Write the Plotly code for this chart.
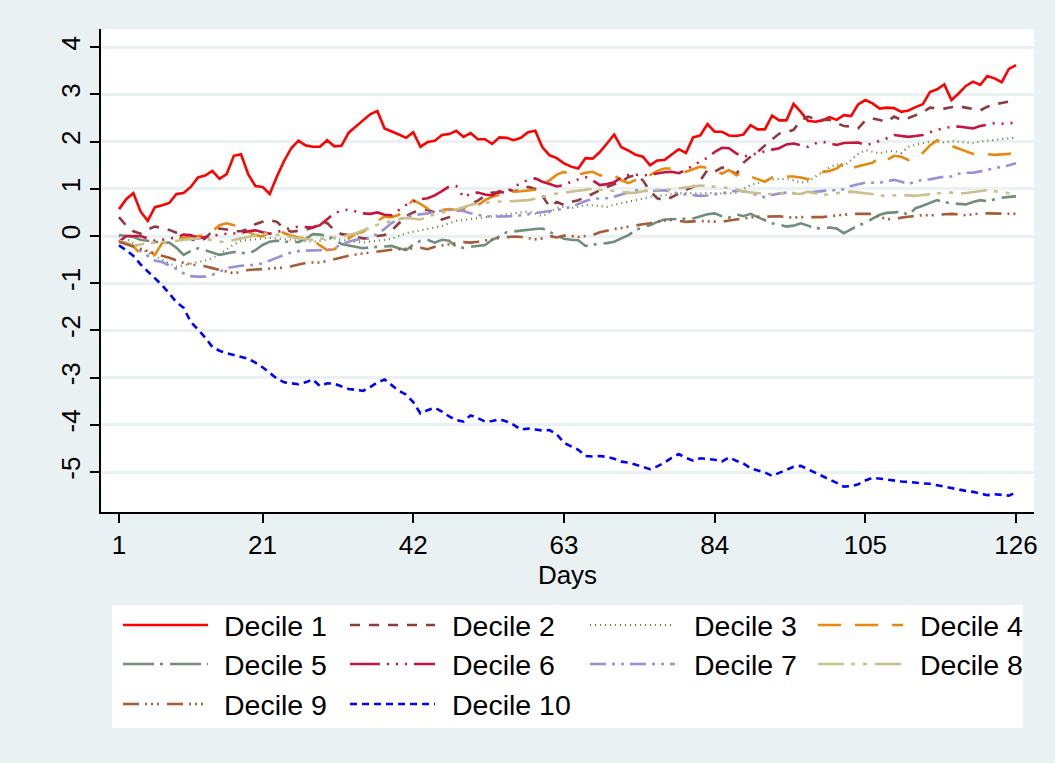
import plotly.graph_objects as go

# Cumulative returns by decile over the 126-day window
days = list(range(1, 127))
x_ticks = [1, 21, 42, 63, 84, 105, 126]
y_ticks = [-5, -4, -3, -2, -1, 0, 1, 2, 3, 4]

decile_1 = [0.57, 0.78, 0.91, 0.52, 0.32, 0.61, 0.65, 0.70, 0.89, 0.91,
            1.04, 1.24, 1.28, 1.38, 1.21, 1.31, 1.70, 1.73, 1.31, 1.06,
            1.04, 0.89, 1.26, 1.59, 1.86, 2.02, 1.92, 1.89, 1.89, 2.03,
            1.90, 1.91, 2.19, 2.33, 2.45, 2.58, 2.65, 2.28, 2.22, 2.15,
            2.08, 2.20, 1.89, 1.99, 2.02, 2.14, 2.16, 2.23, 2.10, 2.18,
            2.05, 2.05, 1.95, 2.09, 2.08, 2.03, 2.08, 2.20, 2.23, 1.88,
            1.71, 1.65, 1.54, 1.47, 1.43, 1.65, 1.64, 1.78, 1.96, 2.15,
            1.88, 1.81, 1.72, 1.68, 1.50, 1.60, 1.61, 1.72, 1.84, 1.76,
            2.09, 2.13, 2.37, 2.21, 2.21, 2.13, 2.12, 2.15, 2.35, 2.26,
            2.26, 2.55, 2.45, 2.45, 2.80, 2.63, 2.44, 2.42, 2.45, 2.52,
            2.46, 2.56, 2.54, 2.79, 2.88, 2.81, 2.70, 2.72, 2.71, 2.63,
            2.66, 2.73, 2.79, 3.05, 3.11, 3.21, 2.88, 3.02, 3.18, 3.27,
            3.20, 3.39, 3.34, 3.26, 3.54, 3.62]

decile_2 = [0.40, 0.22, 0.10, 0.05, 0.14, 0.20, 0.17, 0.13, 0.07, 0.02,
            -0.06, -0.12, -0.05, 0.10, 0.16, 0.14, 0.10, 0.10, 0.15, 0.25,
            0.30, 0.34, 0.30, 0.16, 0.09, 0.11, 0.13, 0.18, 0.25, 0.28,
            0.12, 0.04, 0.02, -0.02, -0.05, -0.05, 0.00, 0.02, 0.12, 0.27,
            0.42, 0.50, 0.55, 0.55, 0.50, 0.35, 0.40, 0.52, 0.60, 0.68,
            0.75, 0.85, 0.92, 0.92, 1.00, 0.95, 0.97, 1.04, 1.00, 0.85,
            0.62, 0.72, 0.66, 0.72, 0.76, 0.82, 0.90, 0.97, 1.04, 1.10,
            1.15, 1.25, 1.29, 1.18, 0.95, 0.80, 0.76, 0.82, 0.90, 0.98,
            1.04, 1.18, 1.40, 1.36, 1.45, 1.43, 1.30, 1.55, 1.68, 1.78,
            1.92, 2.05, 2.17, 2.20, 2.25, 2.45, 2.53, 2.48, 2.46, 2.46,
            2.39, 2.33, 2.32, 2.28, 2.45, 2.49, 2.46, 2.42, 2.53, 2.46,
            2.50, 2.56, 2.62, 2.72, 2.71, 2.70, 2.73, 2.75, 2.72, 2.69,
            2.66, 2.74, 2.79, 2.82, 2.85, 2.90]

decile_3 = [0.00, -0.05, -0.15, -0.28, -0.35, -0.42, -0.50, -0.58, -0.65, -0.62,
            -0.58, -0.55, -0.52, -0.47, -0.38, -0.28, -0.18, -0.10, -0.08, -0.06,
            -0.05, -0.04, -0.05, -0.06, -0.08, -0.10, -0.11, -0.12, -0.10, -0.07,
            -0.05, -0.08, -0.10, -0.12, -0.14, -0.12, -0.10, -0.09, -0.06, 0.00,
            0.06, 0.09, 0.12, 0.16, 0.19, 0.21, 0.27, 0.32, 0.34, 0.36,
            0.37, 0.40, 0.42, 0.44, 0.45, 0.47, 0.50, 0.52, 0.48, 0.42,
            0.50, 0.60, 0.62, 0.59, 0.62, 0.66, 0.65, 0.63, 0.62, 0.66,
            0.70, 0.73, 0.76, 0.80, 0.83, 0.85, 0.87, 0.88, 0.90, 0.91,
            0.90, 0.90, 0.91, 0.90, 0.90, 0.90, 0.92, 1.00, 1.08, 1.12,
            1.17, 1.20, 1.20, 1.21, 1.18, 1.13, 1.16, 1.25, 1.35, 1.45,
            1.52, 1.48, 1.60, 1.74, 1.82, 1.78, 1.75, 1.79, 1.80, 1.76,
            1.89, 1.93, 1.97, 2.00, 2.00, 1.98, 2.01, 2.00, 1.98, 1.97,
            2.00, 2.02, 2.03, 2.05, 2.07, 2.08]

decile_4 = [-0.12, -0.15, -0.22, -0.38, -0.30, -0.40, -0.15, -0.10, -0.06, -0.04,
            -0.02, 0.00, 0.02, 0.10, 0.23, 0.27, 0.23, 0.15, 0.08, 0.02,
            -0.01, 0.08, 0.14, 0.06, 0.01, -0.03, -0.05, -0.08, -0.20, -0.30,
            -0.28, -0.18, -0.05, 0.05, 0.09, 0.20, 0.32, 0.41, 0.40, 0.45,
            0.62, 0.76, 0.68, 0.58, 0.52, 0.55, 0.57, 0.55, 0.56, 0.59,
            0.65, 0.76, 0.83, 0.87, 0.90, 0.94, 0.95, 0.97, 0.98, 1.12,
            1.18, 1.30, 1.36, 1.29, 1.30, 1.34, 1.36, 1.29, 1.27, 1.29,
            1.18, 1.12, 1.19, 1.24, 1.29, 1.38, 1.43, 1.43, 1.41, 1.36,
            1.42, 1.47, 1.44, 1.40, 1.32, 1.40, 1.29, 1.34, 1.26, 1.20,
            1.15, 1.24, 1.26, 1.26, 1.26, 1.24, 1.20, 1.30, 1.35, 1.38,
            1.43, 1.55, 1.43, 1.48, 1.52, 1.55, 1.67, 1.61, 1.70, 1.68,
            1.61, 1.66, 1.76, 1.92, 2.03, 1.96, 1.91, 1.85, 1.79, 1.74,
            1.75, 1.73, 1.72, 1.73, 1.74, 1.77]

decile_5 = [0.02, 0.00, -0.02, -0.08, -0.10, -0.12, -0.14, -0.14, -0.25, -0.40,
            -0.32, -0.26, -0.30, -0.35, -0.40, -0.37, -0.34, -0.35, -0.38, -0.30,
            -0.19, -0.12, -0.10, -0.12, -0.12, -0.13, -0.06, 0.04, 0.03, 0.00,
            -0.06, -0.17, -0.20, -0.23, -0.26, -0.24, -0.23, -0.22, -0.21, -0.26,
            -0.30, -0.18, -0.10, -0.08, -0.14, -0.08, -0.10, -0.23, -0.25, -0.23,
            -0.21, -0.19, -0.08, -0.01, 0.08, 0.10, 0.11, 0.13, 0.15, 0.16,
            0.09, 0.02, -0.06, -0.08, -0.09, -0.21, -0.18, -0.16, -0.15, -0.12,
            -0.05, 0.02, 0.12, 0.20, 0.23, 0.30, 0.35, 0.36, 0.37, 0.37,
            0.37, 0.41, 0.46, 0.48, 0.42, 0.39, 0.46, 0.42, 0.47, 0.40,
            0.33, 0.27, 0.24, 0.20, 0.22, 0.27, 0.22, 0.16, 0.17, 0.18,
            0.16, 0.06, 0.14, 0.23, 0.27, 0.37, 0.45, 0.49, 0.50, 0.52,
            0.44, 0.59, 0.64, 0.70, 0.76, 0.72, 0.69, 0.68, 0.67, 0.72,
            0.76, 0.74, 0.78, 0.81, 0.83, 0.84]

decile_6 = [-0.12, 0.00, 0.00, 0.00, -0.05, -0.10, -0.08, -0.05, -0.03, 0.03,
            0.02, -0.05, -0.02, 0.00, 0.03, 0.05, 0.06, 0.06, 0.10, 0.12,
            0.08, 0.05, 0.08, 0.13, 0.18, 0.20, 0.19, 0.18, 0.23, 0.35,
            0.48, 0.54, 0.56, 0.52, 0.48, 0.47, 0.50, 0.45, 0.44, 0.55,
            0.66, 0.73, 0.78, 0.80, 0.86, 0.95, 1.05, 1.06, 0.82, 0.90,
            0.92, 0.88, 0.86, 0.95, 0.90, 1.04, 1.12, 1.19, 1.22, 1.15,
            1.10, 1.05, 1.08, 1.15, 1.20, 1.25, 1.18, 1.08, 1.10, 1.14,
            1.24, 1.29, 1.30, 1.28, 1.30, 1.33, 1.35, 1.36, 1.33, 1.40,
            1.50, 1.58, 1.66, 1.78, 1.87, 1.86, 1.75, 1.68, 1.72, 1.76,
            1.80, 1.83, 1.86, 1.94, 1.96, 1.93, 1.89, 1.96, 2.00, 1.96,
            1.93, 1.97, 1.98, 1.98, 1.93, 1.96, 2.02, 2.07, 2.14, 2.12,
            2.10, 2.12, 2.14, 2.20, 2.25, 2.29, 2.31, 2.32, 2.30, 2.28,
            2.33, 2.36, 2.39, 2.38, 2.39, 2.40]

decile_7 = [-0.10, -0.15, -0.22, -0.32, -0.42, -0.52, -0.55, -0.62, -0.70, -0.79,
            -0.85, -0.86, -0.86, -0.82, -0.76, -0.68, -0.65, -0.63, -0.62, -0.61,
            -0.58, -0.52, -0.45, -0.40, -0.35, -0.32, -0.31, -0.30, -0.30, -0.30,
            -0.25, -0.18, -0.12, -0.08, -0.06, -0.05, 0.05, 0.15, 0.28, 0.35,
            0.41, 0.44, 0.46, 0.48, 0.52, 0.54, 0.55, 0.55, 0.53, 0.48,
            0.45, 0.42, 0.41, 0.41, 0.41, 0.42, 0.44, 0.46, 0.48, 0.50,
            0.52, 0.55, 0.58, 0.62, 0.68, 0.74, 0.78, 0.80, 0.80, 0.83,
            0.88, 0.93, 0.97, 0.96, 0.95, 0.96, 0.97, 0.94, 0.90, 0.88,
            0.86, 0.85, 0.86, 0.88, 0.90, 0.93, 0.96, 0.95, 0.92, 0.86,
            0.82, 0.87, 0.90, 0.92, 0.91, 0.90, 0.92, 0.94, 0.96, 0.97,
            0.97, 0.99, 1.06, 1.10, 1.13, 1.13, 1.13, 1.16, 1.19, 1.15,
            1.10, 1.16, 1.19, 1.20, 1.23, 1.26, 1.26, 1.32, 1.34, 1.34,
            1.37, 1.40, 1.44, 1.47, 1.50, 1.54]

decile_8 = [-0.10, -0.15, -0.20, -0.18, -0.15, -0.14, -0.14, -0.12, -0.10, -0.07,
            -0.06, -0.05, -0.06, -0.09, -0.12, -0.12, -0.08, -0.05, -0.02, 0.02,
            0.05, 0.05, 0.03, 0.01, -0.02, -0.05, -0.07, -0.08, -0.06, -0.05,
            -0.04, -0.02, 0.02, 0.06, 0.12, 0.18, 0.24, 0.28, 0.32, 0.36,
            0.38, 0.37, 0.35, 0.41, 0.46, 0.50, 0.53, 0.56, 0.61, 0.66,
            0.69, 0.71, 0.72, 0.73, 0.73, 0.74, 0.75, 0.76, 0.79, 0.83,
            0.86, 0.90, 0.92, 0.94, 0.96, 0.98, 1.00, 0.98, 0.97, 0.96,
            0.94, 0.91, 0.92, 0.95, 0.97, 0.98, 0.97, 0.99, 1.01, 1.03,
            1.05, 1.07, 1.06, 1.04, 1.03, 1.02, 0.99, 0.94, 0.92, 0.90,
            0.89, 0.89, 0.90, 0.91, 0.90, 0.89, 0.94, 0.90, 0.87, 0.88,
            0.91, 0.93, 0.94, 0.92, 0.90, 0.89, 0.87, 0.83, 0.86, 0.87,
            0.86, 0.85, 0.87, 0.89, 0.91, 0.92, 0.92, 0.90, 0.91, 0.93,
            0.95, 0.97, 0.95, 0.93, 0.92, 0.89]

decile_9 = [-0.12, -0.17, -0.23, -0.28, -0.33, -0.38, -0.42, -0.46, -0.52, -0.57,
            -0.60, -0.62, -0.64, -0.68, -0.72, -0.76, -0.79, -0.76, -0.72, -0.71,
            -0.70, -0.69, -0.68, -0.67, -0.64, -0.60, -0.57, -0.56, -0.56, -0.53,
            -0.49, -0.45, -0.42, -0.39, -0.37, -0.34, -0.32, -0.30, -0.29, -0.28,
            -0.27, -0.27, -0.25, -0.28, -0.23, -0.20, -0.17, -0.15, -0.13, -0.14,
            -0.12, -0.10, -0.07, -0.04, -0.03, -0.01, -0.02, -0.05, -0.07, -0.05,
            0.00, -0.03, 0.01, 0.00, -0.02, 0.00, 0.02, 0.08, 0.12, 0.15,
            0.17, 0.20, 0.23, 0.25, 0.27, 0.30, 0.33, 0.34, 0.32, 0.30,
            0.31, 0.32, 0.31, 0.30, 0.30, 0.33, 0.35, 0.38, 0.40, 0.41,
            0.41, 0.41, 0.42, 0.40, 0.39, 0.40, 0.40, 0.41, 0.40, 0.42,
            0.43, 0.45, 0.47, 0.47, 0.48, 0.47, 0.40, 0.36, 0.35, 0.39,
            0.41, 0.43, 0.44, 0.44, 0.44, 0.46, 0.47, 0.46, 0.44, 0.46,
            0.48, 0.48, 0.48, 0.47, 0.47, 0.47]

decile_10 = [-0.20, -0.30, -0.42, -0.60, -0.75, -0.90, -1.04, -1.22, -1.40, -1.52,
             -1.82, -1.98, -2.15, -2.35, -2.43, -2.48, -2.52, -2.55, -2.60, -2.68,
             -2.78, -2.90, -3.02, -3.10, -3.12, -3.14, -3.10, -3.04, -3.18, -3.12,
             -3.13, -3.19, -3.24, -3.26, -3.28, -3.20, -3.10, -3.04, -3.17, -3.28,
             -3.36, -3.52, -3.76, -3.69, -3.64, -3.72, -3.82, -3.90, -3.93, -3.80,
             -3.86, -3.93, -3.92, -3.88, -3.93, -4.00, -4.10, -4.08, -4.10, -4.12,
             -4.11, -4.20, -4.38, -4.46, -4.53, -4.66, -4.67, -4.66, -4.68, -4.72,
             -4.78, -4.80, -4.85, -4.90, -4.94, -4.88, -4.80, -4.70, -4.62, -4.70,
             -4.76, -4.71, -4.72, -4.74, -4.78, -4.69, -4.76, -4.82, -4.92, -4.97,
             -5.01, -5.08, -5.02, -4.95, -4.89, -4.87, -4.94, -5.01, -5.08, -5.15,
             -5.23, -5.31, -5.30, -5.26, -5.18, -5.12, -5.14, -5.16, -5.19, -5.20,
             -5.21, -5.23, -5.24, -5.25, -5.28, -5.32, -5.35, -5.37, -5.40, -5.42,
             -5.46, -5.49, -5.47, -5.48, -5.50, -5.43]

series_names = ["Decile 1", "Decile 2", "Decile 3", "Decile 4", "Decile 5",
                "Decile 6", "Decile 7", "Decile 8", "Decile 9", "Decile 10"]
series_values = [decile_1, decile_2, decile_3, decile_4, decile_5,
                 decile_6, decile_7, decile_8, decile_9, decile_10]

colors = ["#ff0000", "#903a3e", "#5e7f2e", "#e8890e", "#6f8e7d",
          "#c8143c", "#9a90d8", "#c9c08b", "#a85c35", "#0000ff"]
dashes = ["solid", "10px,9px", "1px,4px", "23px,14px", "31px,6px,3px,7px",
          "30px,7px,2px,7px,2px,7px,2px,7px", "16px,6px,3px,6px,3px,6px",
          "26px,7px,4px,8px,4px,8px", "16px,6px,2px,4px,2px,4px,2px,8px", "7px,5px"]
widths = [2.6, 2.6, 2.2, 2.6, 2.6, 2.6, 2.6, 2.6, 2.6, 2.6]

FONT = "Liberation Sans, Arial, sans-serif"
BG = "#eaf1f3"

# plot-area geometry in pixels (figure is 1055 x 763)
W, H = 1055, 763
L, R, T, B = 101, 1034, 29, 512


def px(xp):
    return (xp - L) / (R - L)


def py(yp):
    return (B - yp) / (B - T)


fig = go.Figure()
for name, vals, col, dash, w in zip(series_names, series_values, colors, dashes, widths):
    fig.add_trace(go.Scatter(x=days, y=vals, mode="lines", name=name,
                             line=dict(color=col, dash=dash, width=w),
                             showlegend=False))

# legend panel drawn below the plot
shapes = [dict(type="rect", xref="paper", yref="paper",
               x0=px(112), x1=px(1023), y0=py(728), y1=py(605),
               fillcolor="white", line=dict(width=0), layer="below")]
annotations = []
key_x = [123, 350, 590, 818]
text_x = [222, 450, 692, 918]
row_y = [625, 664, 704]
for i, name in enumerate(series_names):
    r, c = divmod(i, 4)
    yk = row_y[r]
    shapes.append(dict(type="line", xref="paper", yref="paper",
                       x0=px(key_x[c]), x1=px(key_x[c] + 85), y0=py(yk), y1=py(yk),
                       line=dict(color=colors[i], dash=dashes[i], width=widths[i])))
    annotations.append(dict(text=name, xref="paper", yref="paper",
                            x=px(text_x[c]), y=py(yk + 1), xanchor="left", yanchor="middle",
                            showarrow=False, font=dict(family=FONT, size=28.5, color="black")))

fig.update_layout(
    width=W, height=H,
    margin=dict(l=L, r=W - R, t=T, b=H - B, pad=0),
    paper_bgcolor=BG, plot_bgcolor="white",
    font=dict(family=FONT, color="black"),
    shapes=shapes, annotations=annotations,
    xaxis=dict(range=[-1.51, 128.5], tickmode="array", tickvals=x_ticks,
               ticktext=[str(v) for v in x_ticks],
               showgrid=False, zeroline=False, showline=True, linecolor="black",
               linewidth=1.5, ticks="outside", ticklen=9, tickwidth=1.5, tickcolor="black",
               tickfont=dict(family=FONT, size=26), title=dict(text="Days", standoff=0,
               font=dict(family=FONT, size=26))),
    yaxis=dict(range=[-5.847, 4.386], tickmode="array", tickvals=y_ticks,
               ticktext=[str(v) for v in y_ticks], tickangle=-90,
               showgrid=True, gridcolor=BG, gridwidth=2.5, zeroline=False,
               showline=True, linecolor="black", linewidth=1.5,
               ticks="outside", ticklen=9, tickwidth=1.5, tickcolor="black",
               tickfont=dict(family=FONT, size=26)),
)

fig.write_html("out.html")
